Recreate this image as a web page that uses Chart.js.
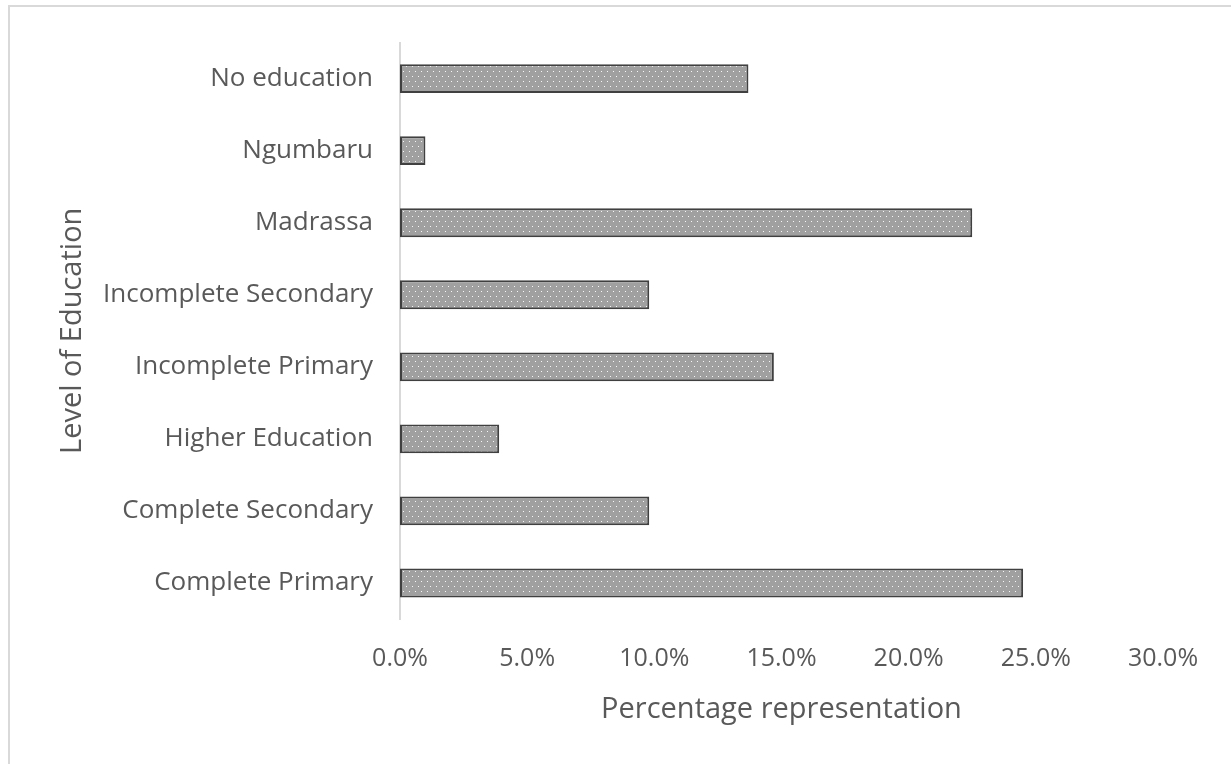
<!DOCTYPE html>
<html>
<head>
<meta charset="utf-8">
<script src="https://cdn.jsdelivr.net/npm/chart.js@4.4.1/dist/chart.umd.min.js"></script>
<style>
html,body{margin:0;padding:0;background:#fff;}
#wrap{position:relative;width:1231px;height:764px;}
#frame{position:absolute;left:8px;top:5px;width:1240px;height:800px;border-left:2px solid #d9d9d9;border-top:2px solid #d9d9d9;box-sizing:border-box;pointer-events:none;}
canvas{position:absolute;left:0;top:0;}
</style>
</head>
<body>
<div id="wrap">
<canvas id="c" width="1231" height="764"></canvas>
<div id="frame"></div>
</div>
<script>
const categories = ["No education","Ngumbaru","Madrassa","Incomplete Secondary","Incomplete Primary","Higher Education","Complete Secondary","Complete Primary"];
const percentages = [13.7, 1.0, 22.5, 9.8, 14.7, 3.9, 9.8, 24.5];
const xTicks = [0, 5, 10, 15, 20, 25, 30];
const xTitle = "Percentage representation";
const yTitle = "Level of Education";

function makePattern(){
  const t = document.createElement('canvas');
  t.width = 6; t.height = 10;
  const g = t.getContext('2d');
  g.fillStyle = '#a0a0a0';
  g.fillRect(0,0,6,10);
  g.fillStyle = '#f8f8f8';
  g.fillRect(1,1,1,1);
  g.fillRect(4,6,1,1);
  return document.getElementById('c').getContext('2d').createPattern(t,'repeat');
}

const FONT = "'Open Sans', sans-serif";
const TXT = '#595959';

new Chart(document.getElementById('c'), {
  type: 'bar',
  data: {
    labels: categories,
    datasets: [{
      data: percentages,
      backgroundColor: makePattern(),
      borderColor: '#404040',
      borderWidth: 2,
      borderSkipped: false,
      categoryPercentage: 0.4,
      barPercentage: 1.0
    }]
  },
  options: {
    indexAxis: 'y',
    responsive: false,
    animation: false,
    devicePixelRatio: 1,
    layout: { padding: { left: 50, right: 68, top: 41, bottom: 30 } },
    plugins: { legend: { display: false }, tooltip: { enabled: false } },
    scales: {
      x: {
        min: 0, max: 30,
        afterBuildTicks: (s) => { s.ticks = xTicks.map(v => ({ value: v })); },
        afterFit: (s) => { s.height = 764 - 619 - 30; },
        grid: { display: false, drawTicks: false },
        border: { display: false },
        ticks: {
          padding: 25,
          color: TXT,
          font: { family: FONT, size: 25 },
          maxRotation: 0,
          callback: (v) => Number(v).toFixed(1) + '%'
        },
        title: {
          display: true,
          text: xTitle,
          color: TXT,
          font: { family: FONT, size: 29 },
          padding: { top: 0, bottom: 7 }
        }
      },
      y: {
        afterFit: (s) => { s.width = 400 - 50; },
        grid: { display: false, drawTicks: false },
        border: { display: true, color: '#d9d9d9', width: 2 },
        ticks: {
          padding: 27,
          color: TXT,
          font: { family: FONT, size: 26 }
        },
        title: {
          display: true,
          text: yTitle,
          color: TXT,
          font: { family: FONT, size: 29 },
          padding: { top: 5, bottom: 0 }
        }
      }
    }
  }
});
</script>
</body>
</html>
